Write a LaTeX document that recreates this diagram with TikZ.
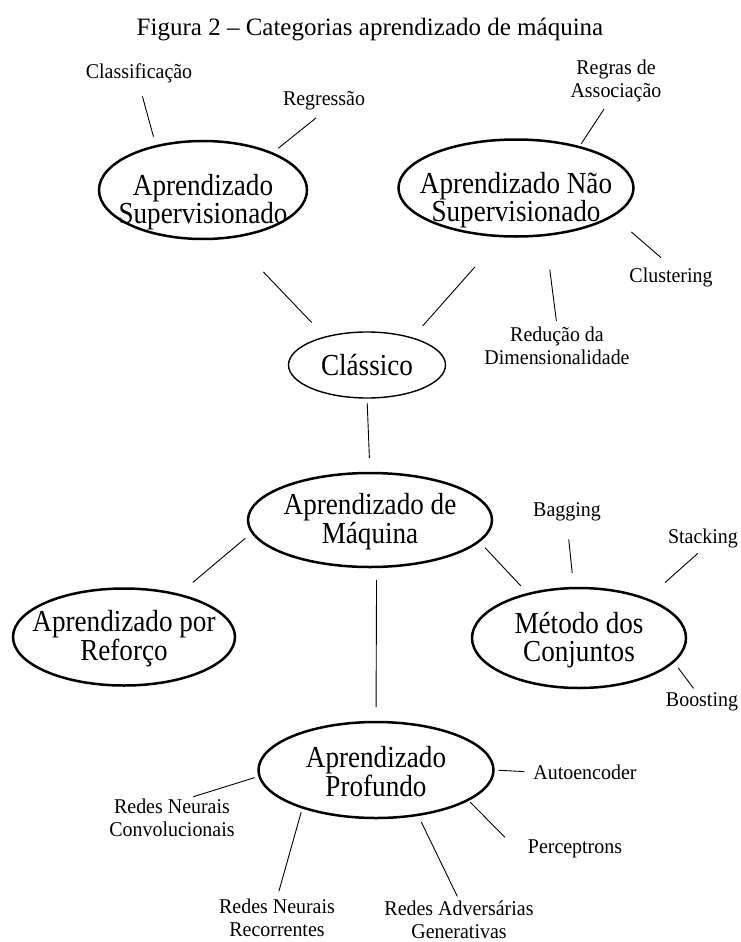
\documentclass[tikz,border=0pt]{standalone}
\usepackage{fontspec}
\setmainfont{Liberation Serif}
\newfontfamily\ellfont[FakeStretch=0.89]{Liberation Serif}
\newfontfamily\leaffont[FakeStretch=0.95]{Liberation Serif}
\usetikzlibrary{shapes.geometric}

\begin{document}
\begin{tikzpicture}[x=1pt,y=-1pt,
  ell/.style={draw,ellipse,line width=2.5pt,inner sep=0pt,outer sep=0pt},
  elltext/.style={align=center,inner sep=0pt,font=\fontsize{30.5}{27.5}\ellfont},
  leaf/.style={align=center,inner sep=1pt,font=\fontsize{21}{23}\leaffont},
  link/.style={line width=0.9pt}]
\path[use as bounding box] (0,0) rectangle (740,942);
\node[inner sep=0pt,font=\fontsize{25}{30}\selectfont] (title) at (370,30) {Figura 2 – Categorias aprendizado de máquina};

\node[ell,minimum width=208pt,minimum height=98pt] (sup) at (203,190) {};
\node[elltext] (supt) at (203,202) {Aprendizado\\Supervisionado};
\node[ell,minimum width=235pt,minimum height=97pt] (nsup) at (516,188) {};
\node[elltext] (nsupt) at (516,200) {Aprendizado Não\\Supervisionado};
\node[ell,line width=1.4pt,minimum width=157pt,minimum height=66pt] (cla) at (367,365) {};
\node[elltext] (clat) at (367,365) {Clássico};
\node[ell,minimum width=244pt,minimum height=94pt] (maq) at (370,520) {};
\node[elltext] (maqt) at (370,522) {Aprendizado de\\Máquina};
\node[ell,minimum width=222pt,minimum height=97pt] (ref) at (124,637) {};
\node[elltext] (reft) at (124,639) {Aprendizado por\\Reforço};
\node[ell,minimum width=214pt,minimum height=100pt] (conj) at (579,638) {};
\node[elltext] (conjt) at (579,640) {Método dos\\Conjuntos};
\node[ell,minimum width=235pt,minimum height=96pt] (prof) at (376,770) {};
\node[elltext] (proft) at (376,772) {Aprendizado\\Profundo};

\node[leaf] (classif) at (139,73) {Classificação};
\node[leaf] (regr) at (324,101) {Regressão};
\node[leaf] (regras) at (616,81) {Regras de\\Associação};
\node[leaf] (clus) at (671,277) {Clustering};
\node[leaf] (redu) at (557,346) {Redução da\\Dimensionalidade};
\node[leaf] (bagg) at (567,512) {Bagging};
\node[leaf] (stack) at (703,538) {Stacking};
\node[leaf] (boost) at (702,702) {Boosting};
\node[leaf] (autoenc) at (585,772) {Autoencoder};
\node[leaf] (percep) at (575,849) {Perceptrons};
\node[leaf] (convol) at (172,818) {Redes Neurais\\Convolucionais};
\node[leaf] (recorr) at (277,918) {Redes Neurais\\Recorrentes};
\node[leaf] (advers) at (459,920) {Redes Adversárias\\Generativas};

\draw[link,shorten <=13pt,shorten >=10pt] (classif.south) -- (sup.137);
\draw[link,shorten <=10pt,shorten >=8pt] (regr.south) -- (sup.28);
\draw[link,shorten <=7pt,shorten >=4pt] (regras.-110) -- (nsup.33);
\draw[link,shorten <=13pt,shorten >=25pt] (clus.north) -- (nsup.-16);
\draw[link,shorten <=5pt,shorten >=35pt] (redu.north) -- (nsup.-58);
\draw[link,shorten <=48pt,shorten >=20pt] (sup.-60) -- (cla.146);
\draw[link,shorten <=41pt,shorten >=16pt] (nsup.-106) -- (cla.31);
\draw[link,shorten <=5pt,shorten >=15pt] (cla.south) -- (maq.north);
\draw[link,shorten <=9pt,shorten >=19pt] (maq.186) -- (ref.38);
\draw[link,shorten <=9pt,shorten >=11pt] (maq.-11) -- (conj.139);
\draw[link,shorten <=13pt,shorten >=15pt] (maq.-82) -- (prof.north);
\draw[link,shorten <=17pt,shorten >=15pt] (bagg.south) -- (conj.96);
\draw[link,shorten <=7pt,shorten >=25pt] (stack.south) -- (conj.30);
\draw[link,shorten <=4pt,shorten >=8pt] (boost.120) -- (conj.-14);
\draw[link,shorten <=8pt,shorten >=5pt] (autoenc.west) -- (prof.east);
\draw[link,shorten <=31pt,shorten >=3pt] (percep.south west) -- (prof.-18);
\draw[link,shorten <=4pt,shorten >=5pt] (convol.49) -- (prof.183);
\draw[link,shorten <=7pt,shorten >=5pt] (recorr.north) -- (prof.207);
\draw[link,shorten <=4pt,shorten >=8pt] (advers.north) -- (prof.-47);
\end{tikzpicture}
\end{document}
